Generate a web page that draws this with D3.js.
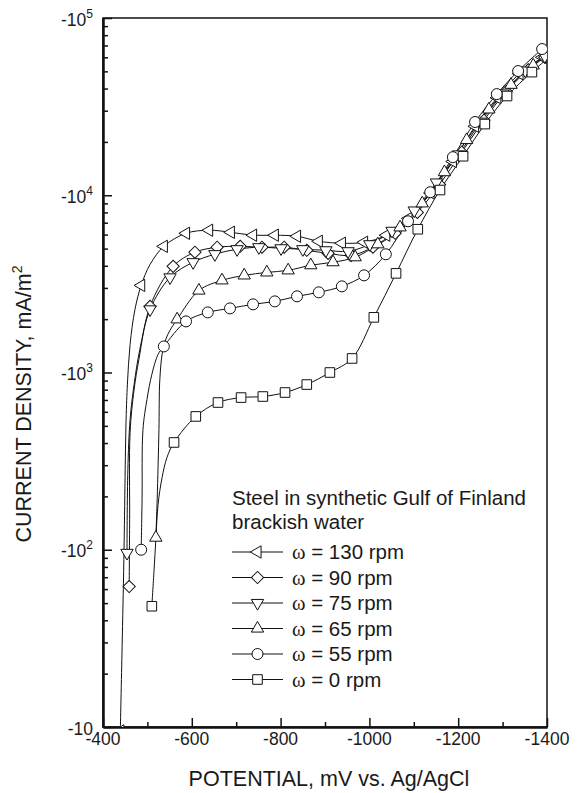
<!DOCTYPE html>
<html>
<head>
<meta charset="utf-8">
<title>Polarization curves</title>
<script src="https://cdn.jsdelivr.net/npm/d3@7"></script>
<style>
body { margin: 0; background: #fff; }
text { font-family: "Liberation Sans", Arial, sans-serif; fill: #1a1a1a; }
</style>
</head>
<body>
<script>
// potential (mV vs Ag/AgCl), current density (mA/m2), marker flag
var rpm130 = [[-439,-9.5,1],[-443,-28,0],[-447,-88,0],[-452,-540,0],[-455,-860,0],[-461,-1440,0],[-472,-2270,0],
  [-486,-3100,1],[-506,-4070,0],[-537,-5150,1],[-587,-6100,1],[-639,-6350,1],[-688,-6180,1],[-738,-5950,1],
  [-787,-5950,1],[-837,-5870,1],[-886,-5500,1],[-938,-5360,1],[-988,-5430,1],[-1038,-5950,1],[-1088,-7400,1],
  [-1138,-10300,1],[-1188,-15500,1],[-1238,-24500,1],[-1288,-35500,1],[-1338,-48500,1],[-1390,-60000,1]];
var rpm90 = [[-459,-62,1],[-460,-148,0],[-461,-458,0],[-470,-800,0],[-481,-1190,0],[-506,-2360,1],[-558,-3970,1],
  [-607,-4770,1],[-657,-5090,1],[-709,-5150,1],[-758,-5090,1],[-808,-5090,1],[-859,-4890,1],[-907,-4700,1],
  [-959,-4580,1],[-1008,-5090,1],[-1058,-6100,1],[-1108,-8000,1],[-1158,-11500,1],[-1208,-17500,1],
  [-1258,-26500,1],[-1308,-38500,1],[-1358,-51000,1],[-1395,-60000,1]];
var rpm75 = [[-454,-96,1],[-456,-283,0],[-461,-543,0],[-470,-855,0],[-483,-1350,0],[-506,-2270,1],[-551,-3440,1],
  [-603,-4190,1],[-652,-4650,1],[-702,-4960,1],[-751,-5090,1],[-801,-5020,1],[-850,-4960,1],[-902,-4890,1],
  [-952,-4830,1],[-1001,-5290,1],[-1051,-6300,1],[-1101,-8200,1],[-1151,-11800,1],[-1201,-17000,1],
  [-1251,-26000,1],[-1301,-37500,1],[-1351,-50500,1],[-1395,-61000,1]];
var rpm65 = [[-519,-117,1],[-522,-192,0],[-526,-476,0],[-528,-914,0],[-535,-1350,0],[-546,-1640,0],[-567,-1995,1],
  [-616,-2900,1],[-668,-3310,1],[-718,-3530,1],[-769,-3670,1],[-817,-3770,1],[-868,-4030,1],[-918,-4190,1],
  [-968,-4470,1],[-1019,-5290,1],[-1069,-6590,1],[-1119,-9000,1],[-1169,-13500,1],[-1219,-20500,1],
  [-1269,-30500,1],[-1319,-42000,1],[-1369,-54000,1],[-1398,-62000,0]];
var rpm55 = [[-486,-100,1],[-488,-192,0],[-490,-476,0],[-499,-704,0],[-510,-975,0],[-524,-1264,0],[-537,-1403,1],
  [-587,-1942,1],[-636,-2183,1],[-686,-2300,1],[-738,-2424,1],[-787,-2519,1],[-837,-2690,1],[-886,-2833,1],
  [-938,-3062,1],[-988,-3532,1],[-1037,-4645,1],[-1087,-7130,1],[-1137,-10400,1],[-1188,-16400,1],
  [-1238,-25900,1],[-1287,-37200,1],[-1335,-50200,1],[-1389,-66800,1]];
var rpm0 = [[-510,-48,1],[-515,-77,0],[-519,-114,0],[-524,-180,0],[-533,-255,0],[-544,-331,0],[-560,-403,1],
  [-609,-565,1],[-659,-677,1],[-711,-722,1],[-760,-732,1],[-810,-771,1],[-859,-855,1],[-911,-1000,1],
  [-961,-1200,1],[-1010,-2047,1],[-1060,-3625,1],[-1109,-6430,1],[-1159,-10700,1],[-1211,-16600,1],
  [-1260,-25200,1],[-1310,-36300,1],[-1366,-49500,1],[-1400,-58700,0]];

var seriesData = [rpm130, rpm90, rpm75, rpm65, rpm55, rpm0];
var seriesMarks = ["left", "diamond", "down", "up", "circle", "square"];
var legendLabels = ["ω = 130 rpm", "ω = 90 rpm", "ω = 75 rpm", "ω = 65 rpm", "ω = 55 rpm", "ω = 0 rpm"];
var legendTitle = ["Steel in synthetic Gulf of Finland", "brackish water"];

var potMajor = [-400, -600, -800, -1000, -1200, -1400];
var potMinor = [-500, -700, -900, -1100, -1300];
var curDecades = [-10, -100, -1000, -10000, -100000];
var curExp = ["", "2", "3", "4", "5"];

var W = 581, H = 793;
var L = 103, R = 547, T = 18, B = 727;

var x = d3.scaleLinear().domain([-400, -1400]).range([L, R]);
var y = d3.scaleLog().domain([-10, -100000]).range([B, T]);

var svg = d3.select("body").append("svg").attr("width", W).attr("height", H);

svg.append("clipPath").attr("id", "plotclip").append("rect")
    .attr("x", L).attr("y", T).attr("width", R - L).attr("height", B - T);

// frame
svg.append("rect").attr("x", L).attr("y", T).attr("width", R - L).attr("height", B - T)
    .attr("fill", "none").attr("stroke", "#111").attr("stroke-width", 1.5);

// minor ticks on y (2..9 each decade)
var curMinor = [];
curDecades.slice(0, -1).forEach(function (d) {
    for (var k = 2; k <= 9; k++) curMinor.push(d * k);
});

var xAxisMinor = d3.axisBottom(x).tickValues(potMinor).tickSize(-5).tickSizeOuter(0).tickFormat("");
var xAxis = d3.axisBottom(x).tickValues(potMajor).tickSize(-9).tickSizeOuter(0).tickFormat("");
var yAxisMinor = d3.axisLeft(y).tickValues(curMinor).tickSize(-5).tickSizeOuter(0).tickFormat("");
var yAxis = d3.axisLeft(y).tickValues(curDecades).tickSize(-9).tickSizeOuter(0).tickFormat("");

[xAxisMinor, xAxis].forEach(function (a) {
    svg.append("g").attr("class", "axis").attr("transform", "translate(0," + B + ")").call(a);
});
[yAxisMinor, yAxis].forEach(function (a) {
    svg.append("g").attr("class", "axis").attr("transform", "translate(" + L + ",0)").call(a);
});
svg.selectAll(".axis path").attr("stroke", "#111").attr("stroke-width", 2);
svg.selectAll(".axis line").attr("stroke", "#111").attr("stroke-width", 1.5);

// tick labels
svg.selectAll(".xlab").data(potMajor).enter().append("text")
    .attr("x", function (d) { return x(d); }).attr("y", B + 18)
    .attr("text-anchor", "middle").style("font-size", "17.5px")
    .text(function (d) { return d; });

curDecades.forEach(function (d, i) {
    var t = svg.append("text").attr("x", L - 10).attr("y", y(d) + 7.5)
        .attr("text-anchor", "end").style("font-size", "17.5px");
    t.append("tspan").text("-10");
    if (curExp[i]) t.append("tspan").attr("dy", -8).style("font-size", "12px").text(curExp[i]);
});

// axis titles
svg.append("text").attr("x", 329).attr("y", 786).attr("text-anchor", "middle")
    .style("font-size", "21.5px").text("POTENTIAL, mV vs. Ag/AgCl");

var yt = svg.append("text").attr("transform", "translate(31,404) rotate(-90)")
    .attr("text-anchor", "middle").style("font-size", "21.5px");
yt.append("tspan").text("CURRENT DENSITY, mA/m");
yt.append("tspan").attr("dy", -9).style("font-size", "14px").text("2");

// markers
function markerPath(kind) {
    if (kind == "circle") return d3.symbol().type(d3.symbolCircle).size(95)();
    if (kind == "square") return d3.symbol().type(d3.symbolSquare).size(92)();
    if (kind == "diamond") return d3.symbol().type(d3.symbolSquare).size(74)();
    return d3.symbol().type(d3.symbolTriangle).size(66)();
}
function markerRot(kind) {
    if (kind == "left") return -90;
    if (kind == "down") return 180;
    if (kind == "diamond") return 45;
    return 0;
}

var line = d3.line()
    .x(function (d) { return x(d[0]); })
    .y(function (d) { return y(d[1]); })
    .curve(d3.curveCatmullRom.alpha(0.5));

var plot = svg.append("g").attr("clip-path", "url(#plotclip)");

seriesData.forEach(function (s, i) {
    plot.append("path").datum(s).attr("d", line)
        .attr("fill", "none").attr("stroke", "#111").attr("stroke-width", 1);
});
seriesData.forEach(function (s, i) {
    var kind = seriesMarks[i];
    plot.selectAll(".m" + i).data(s.filter(function (d) { return d[2]; })).enter().append("path")
        .attr("d", markerPath(kind))
        .attr("transform", function (d) {
            return "translate(" + x(d[0]) + "," + y(d[1]) + ") rotate(" + markerRot(kind) + ")";
        })
        .attr("fill", "#fff").attr("stroke", "#111").attr("stroke-width", 1);
});

// legend
var lg = svg.append("g").attr("transform", "translate(232,0)");
legendTitle.forEach(function (t, i) {
    lg.append("text").attr("x", 0).attr("y", 505 + i * 24).style("font-size", "20.5px").text(t);
});
legendLabels.forEach(function (lab, i) {
    var yy = 552 + i * 25.5;
    lg.append("line").attr("x1", 0).attr("x2", 51).attr("y1", yy).attr("y2", yy)
        .attr("stroke", "#111").attr("stroke-width", 1);
    var kind = seriesMarks[i];
    lg.append("path").attr("d", markerPath(kind))
        .attr("transform", "translate(25.5," + yy + ") rotate(" + markerRot(kind) + ")")
        .attr("fill", "#fff").attr("stroke", "#111").attr("stroke-width", 1);
    var t = lg.append("text").attr("x", 60).attr("y", yy + 7).style("font-size", "20.5px");
    t.append("tspan").style("font-family", "'Liberation Serif', 'DejaVu Serif', serif").text(lab.charAt(0));
    t.append("tspan").text(lab.slice(1));
});
</script>
</body>
</html>
